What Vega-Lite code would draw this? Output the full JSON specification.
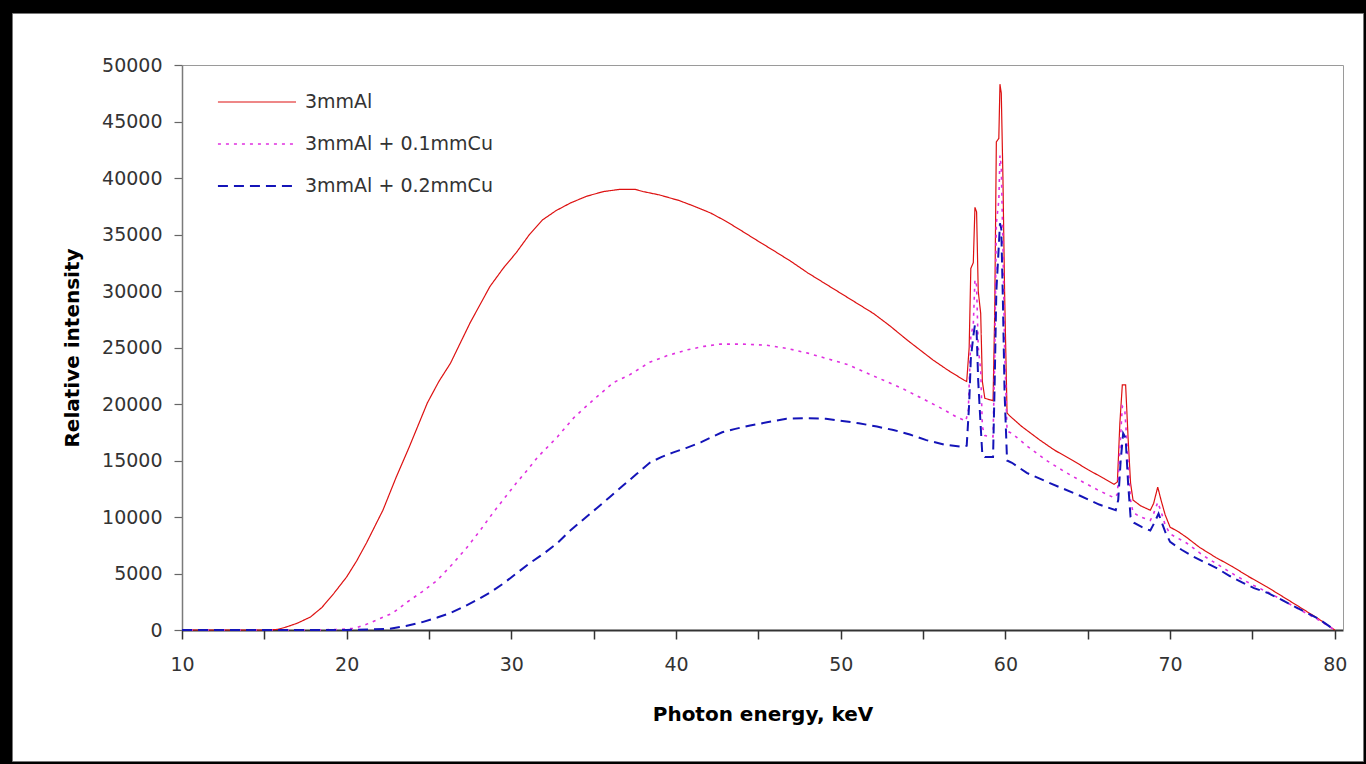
{
 "$schema": "https://vega.github.io/schema/vega-lite/v6.json",
 "width": 1351,
 "height": 748,
 "autosize": {"type": "none"},
 "padding": {"left": 12, "top": 13, "right": 3, "bottom": 3},
 "background": "#000000",
 "config": {"view": {"fill": "#ffffff", "stroke": "#777777", "strokeWidth": 1}, "font": "DejaVu Sans"},
 "data": {"values": [
{"s":"3mmAl","E":10,"I":0},{"s":"3mmAl","E":12,"I":0},{"s":"3mmAl","E":14,"I":0},{"s":"3mmAl","E":15,"I":0},{"s":"3mmAl","E":15.8,"I":50},{"s":"3mmAl","E":16.3,"I":250},{"s":"3mmAl","E":17,"I":600},{"s":"3mmAl","E":17.8,"I":1150},{"s":"3mmAl","E":18.5,"I":2000},{"s":"3mmAl","E":19.2,"I":3200},{"s":"3mmAl","E":20,"I":4700},{"s":"3mmAl","E":20.6,"I":6100},{"s":"3mmAl","E":21.2,"I":7700},{"s":"3mmAl","E":22.2,"I":10600},{"s":"3mmAl","E":23,"I":13500},{"s":"3mmAl","E":23.8,"I":16200},{"s":"3mmAl","E":24.9,"I":20100},{"s":"3mmAl","E":25.6,"I":22000},{"s":"3mmAl","E":26.3,"I":23600},{"s":"3mmAl","E":27.5,"I":27200},{"s":"3mmAl","E":28.7,"I":30400},{"s":"3mmAl","E":29.5,"I":32000},{"s":"3mmAl","E":30.3,"I":33400},{"s":"3mmAl","E":31.1,"I":35000},{"s":"3mmAl","E":31.9,"I":36300},{"s":"3mmAl","E":32.7,"I":37100},{"s":"3mmAl","E":33.6,"I":37800},{"s":"3mmAl","E":34.6,"I":38400},{"s":"3mmAl","E":35.6,"I":38800},{"s":"3mmAl","E":36.6,"I":39000},{"s":"3mmAl","E":37.5,"I":39000},{"s":"3mmAl","E":38,"I":38800},{"s":"3mmAl","E":39,"I":38500},{"s":"3mmAl","E":40.2,"I":38000},{"s":"3mmAl","E":41.1,"I":37500},{"s":"3mmAl","E":42.1,"I":36900},{"s":"3mmAl","E":43,"I":36200},{"s":"3mmAl","E":43.9,"I":35400},{"s":"3mmAl","E":45,"I":34400},{"s":"3mmAl","E":45.9,"I":33600},{"s":"3mmAl","E":47,"I":32600},{"s":"3mmAl","E":48,"I":31600},{"s":"3mmAl","E":49,"I":30700},{"s":"3mmAl","E":50,"I":29800},{"s":"3mmAl","E":51,"I":28900},{"s":"3mmAl","E":52,"I":28000},{"s":"3mmAl","E":53,"I":26900},{"s":"3mmAl","E":54,"I":25700},{"s":"3mmAl","E":54.8,"I":24800},{"s":"3mmAl","E":55.6,"I":23900},{"s":"3mmAl","E":56.5,"I":23000},{"s":"3mmAl","E":57.5,"I":22100},{"s":"3mmAl","E":57.65,"I":22000},{"s":"3mmAl","E":57.8,"I":25000},{"s":"3mmAl","E":57.9,"I":32000},{"s":"3mmAl","E":58.05,"I":32500},{"s":"3mmAl","E":58.15,"I":37400},{"s":"3mmAl","E":58.25,"I":37000},{"s":"3mmAl","E":58.35,"I":30000},{"s":"3mmAl","E":58.5,"I":28000},{"s":"3mmAl","E":58.6,"I":22000},{"s":"3mmAl","E":58.75,"I":20500},{"s":"3mmAl","E":59.25,"I":20300},{"s":"3mmAl","E":59.35,"I":28000},{"s":"3mmAl","E":59.45,"I":43200},{"s":"3mmAl","E":59.6,"I":43500},{"s":"3mmAl","E":59.67,"I":48300},{"s":"3mmAl","E":59.75,"I":47500},{"s":"3mmAl","E":59.85,"I":40000},{"s":"3mmAl","E":59.95,"I":30000},{"s":"3mmAl","E":60.1,"I":19200},{"s":"3mmAl","E":60.3,"I":18900},{"s":"3mmAl","E":61,"I":18000},{"s":"3mmAl","E":62.1,"I":16800},{"s":"3mmAl","E":63,"I":15900},{"s":"3mmAl","E":64.1,"I":15000},{"s":"3mmAl","E":65,"I":14200},{"s":"3mmAl","E":66,"I":13400},{"s":"3mmAl","E":66.6,"I":12900},{"s":"3mmAl","E":66.8,"I":13100},{"s":"3mmAl","E":66.95,"I":18300},{"s":"3mmAl","E":67.1,"I":21700},{"s":"3mmAl","E":67.3,"I":21700},{"s":"3mmAl","E":67.45,"I":17000},{"s":"3mmAl","E":67.6,"I":13000},{"s":"3mmAl","E":67.75,"I":11500},{"s":"3mmAl","E":68.2,"I":11000},{"s":"3mmAl","E":68.8,"I":10600},{"s":"3mmAl","E":69,"I":11200},{"s":"3mmAl","E":69.25,"I":12650},{"s":"3mmAl","E":69.45,"I":11500},{"s":"3mmAl","E":69.7,"I":10200},{"s":"3mmAl","E":70,"I":9100},{"s":"3mmAl","E":70.5,"I":8700},{"s":"3mmAl","E":71,"I":8200},{"s":"3mmAl","E":71.8,"I":7300},{"s":"3mmAl","E":72.8,"I":6400},{"s":"3mmAl","E":73.8,"I":5600},{"s":"3mmAl","E":74.8,"I":4700},{"s":"3mmAl","E":75.9,"I":3800},{"s":"3mmAl","E":76.9,"I":2900},{"s":"3mmAl","E":77.9,"I":2000},{"s":"3mmAl","E":79,"I":1000},{"s":"3mmAl","E":80,"I":0},
{"s":"3mmAl + 0.1mmCu","E":10,"I":0},{"s":"3mmAl + 0.1mmCu","E":14,"I":0},{"s":"3mmAl + 0.1mmCu","E":18,"I":0},{"s":"3mmAl + 0.1mmCu","E":19.5,"I":50},{"s":"3mmAl + 0.1mmCu","E":20.5,"I":150},{"s":"3mmAl + 0.1mmCu","E":21.2,"I":500},{"s":"3mmAl + 0.1mmCu","E":22,"I":1000},{"s":"3mmAl + 0.1mmCu","E":22.8,"I":1500},{"s":"3mmAl + 0.1mmCu","E":23.7,"I":2500},{"s":"3mmAl + 0.1mmCu","E":24.6,"I":3400},{"s":"3mmAl + 0.1mmCu","E":25.5,"I":4400},{"s":"3mmAl + 0.1mmCu","E":26.4,"I":5800},{"s":"3mmAl + 0.1mmCu","E":27.3,"I":7300},{"s":"3mmAl + 0.1mmCu","E":28.1,"I":8800},{"s":"3mmAl + 0.1mmCu","E":28.9,"I":10400},{"s":"3mmAl + 0.1mmCu","E":29.6,"I":11700},{"s":"3mmAl + 0.1mmCu","E":30.3,"I":13000},{"s":"3mmAl + 0.1mmCu","E":31,"I":14200},{"s":"3mmAl + 0.1mmCu","E":31.6,"I":15300},{"s":"3mmAl + 0.1mmCu","E":32.2,"I":16200},{"s":"3mmAl + 0.1mmCu","E":32.8,"I":17100},{"s":"3mmAl + 0.1mmCu","E":33.8,"I":18800},{"s":"3mmAl + 0.1mmCu","E":35,"I":20400},{"s":"3mmAl + 0.1mmCu","E":36.2,"I":21900},{"s":"3mmAl + 0.1mmCu","E":37.2,"I":22600},{"s":"3mmAl + 0.1mmCu","E":38.4,"I":23700},{"s":"3mmAl + 0.1mmCu","E":39.5,"I":24300},{"s":"3mmAl + 0.1mmCu","E":40.7,"I":24800},{"s":"3mmAl + 0.1mmCu","E":41.7,"I":25100},{"s":"3mmAl + 0.1mmCu","E":42.7,"I":25300},{"s":"3mmAl + 0.1mmCu","E":44,"I":25300},{"s":"3mmAl + 0.1mmCu","E":45.5,"I":25200},{"s":"3mmAl + 0.1mmCu","E":46.8,"I":24900},{"s":"3mmAl + 0.1mmCu","E":48,"I":24500},{"s":"3mmAl + 0.1mmCu","E":49.2,"I":24000},{"s":"3mmAl + 0.1mmCu","E":50.4,"I":23500},{"s":"3mmAl + 0.1mmCu","E":51.5,"I":22800},{"s":"3mmAl + 0.1mmCu","E":52.6,"I":22100},{"s":"3mmAl + 0.1mmCu","E":53.7,"I":21400},{"s":"3mmAl + 0.1mmCu","E":54.8,"I":20600},{"s":"3mmAl + 0.1mmCu","E":56,"I":19700},{"s":"3mmAl + 0.1mmCu","E":57.1,"I":18800},{"s":"3mmAl + 0.1mmCu","E":57.6,"I":18500},{"s":"3mmAl + 0.1mmCu","E":57.75,"I":19500},{"s":"3mmAl + 0.1mmCu","E":57.9,"I":26000},{"s":"3mmAl + 0.1mmCu","E":58.05,"I":27000},{"s":"3mmAl + 0.1mmCu","E":58.15,"I":31000},{"s":"3mmAl + 0.1mmCu","E":58.25,"I":30500},{"s":"3mmAl + 0.1mmCu","E":58.35,"I":25000},{"s":"3mmAl + 0.1mmCu","E":58.5,"I":23000},{"s":"3mmAl + 0.1mmCu","E":58.6,"I":18000},{"s":"3mmAl + 0.1mmCu","E":58.75,"I":17200},{"s":"3mmAl + 0.1mmCu","E":59.25,"I":17100},{"s":"3mmAl + 0.1mmCu","E":59.35,"I":24000},{"s":"3mmAl + 0.1mmCu","E":59.45,"I":36000},{"s":"3mmAl + 0.1mmCu","E":59.6,"I":38000},{"s":"3mmAl + 0.1mmCu","E":59.67,"I":42000},{"s":"3mmAl + 0.1mmCu","E":59.75,"I":41000},{"s":"3mmAl + 0.1mmCu","E":59.85,"I":34000},{"s":"3mmAl + 0.1mmCu","E":59.95,"I":25000},{"s":"3mmAl + 0.1mmCu","E":60.1,"I":17600},{"s":"3mmAl + 0.1mmCu","E":60.4,"I":17400},{"s":"3mmAl + 0.1mmCu","E":61.3,"I":16300},{"s":"3mmAl + 0.1mmCu","E":62.5,"I":15000},{"s":"3mmAl + 0.1mmCu","E":63.6,"I":14000},{"s":"3mmAl + 0.1mmCu","E":64.7,"I":13100},{"s":"3mmAl + 0.1mmCu","E":65.6,"I":12400},{"s":"3mmAl + 0.1mmCu","E":66.6,"I":11700},{"s":"3mmAl + 0.1mmCu","E":66.8,"I":12000},{"s":"3mmAl + 0.1mmCu","E":66.95,"I":16000},{"s":"3mmAl + 0.1mmCu","E":67.1,"I":19800},{"s":"3mmAl + 0.1mmCu","E":67.25,"I":19500},{"s":"3mmAl + 0.1mmCu","E":67.45,"I":15000},{"s":"3mmAl + 0.1mmCu","E":67.6,"I":11500},{"s":"3mmAl + 0.1mmCu","E":67.75,"I":10400},{"s":"3mmAl + 0.1mmCu","E":68.2,"I":10000},{"s":"3mmAl + 0.1mmCu","E":68.8,"I":9700},{"s":"3mmAl + 0.1mmCu","E":69,"I":10300},{"s":"3mmAl + 0.1mmCu","E":69.25,"I":11300},{"s":"3mmAl + 0.1mmCu","E":69.45,"I":10500},{"s":"3mmAl + 0.1mmCu","E":69.7,"I":9300},{"s":"3mmAl + 0.1mmCu","E":70,"I":8500},{"s":"3mmAl + 0.1mmCu","E":71,"I":7700},{"s":"3mmAl + 0.1mmCu","E":72,"I":6600},{"s":"3mmAl + 0.1mmCu","E":73,"I":5700},{"s":"3mmAl + 0.1mmCu","E":74,"I":4800},{"s":"3mmAl + 0.1mmCu","E":75,"I":4000},{"s":"3mmAl + 0.1mmCu","E":76,"I":3300},{"s":"3mmAl + 0.1mmCu","E":77,"I":2500},{"s":"3mmAl + 0.1mmCu","E":78,"I":1700},{"s":"3mmAl + 0.1mmCu","E":79,"I":900},{"s":"3mmAl + 0.1mmCu","E":80,"I":0},
{"s":"3mmAl + 0.2mmCu","E":10,"I":0},{"s":"3mmAl + 0.2mmCu","E":15,"I":0},{"s":"3mmAl + 0.2mmCu","E":20,"I":0},{"s":"3mmAl + 0.2mmCu","E":22.6,"I":100},{"s":"3mmAl + 0.2mmCu","E":23.6,"I":350},{"s":"3mmAl + 0.2mmCu","E":24.6,"I":700},{"s":"3mmAl + 0.2mmCu","E":25.5,"I":1100},{"s":"3mmAl + 0.2mmCu","E":26.3,"I":1500},{"s":"3mmAl + 0.2mmCu","E":27.1,"I":2050},{"s":"3mmAl + 0.2mmCu","E":27.9,"I":2650},{"s":"3mmAl + 0.2mmCu","E":28.7,"I":3300},{"s":"3mmAl + 0.2mmCu","E":29.5,"I":4100},{"s":"3mmAl + 0.2mmCu","E":30.3,"I":5000},{"s":"3mmAl + 0.2mmCu","E":31.1,"I":5900},{"s":"3mmAl + 0.2mmCu","E":32,"I":6800},{"s":"3mmAl + 0.2mmCu","E":32.8,"I":7700},{"s":"3mmAl + 0.2mmCu","E":33.5,"I":8700},{"s":"3mmAl + 0.2mmCu","E":34.3,"I":9700},{"s":"3mmAl + 0.2mmCu","E":35.2,"I":10800},{"s":"3mmAl + 0.2mmCu","E":36,"I":11800},{"s":"3mmAl + 0.2mmCu","E":36.8,"I":12800},{"s":"3mmAl + 0.2mmCu","E":37.6,"I":13800},{"s":"3mmAl + 0.2mmCu","E":38.4,"I":14800},{"s":"3mmAl + 0.2mmCu","E":39.1,"I":15300},{"s":"3mmAl + 0.2mmCu","E":39.8,"I":15700},{"s":"3mmAl + 0.2mmCu","E":40.6,"I":16100},{"s":"3mmAl + 0.2mmCu","E":41.5,"I":16600},{"s":"3mmAl + 0.2mmCu","E":42.2,"I":17100},{"s":"3mmAl + 0.2mmCu","E":42.8,"I":17500},{"s":"3mmAl + 0.2mmCu","E":43.6,"I":17800},{"s":"3mmAl + 0.2mmCu","E":44.5,"I":18100},{"s":"3mmAl + 0.2mmCu","E":45.6,"I":18400},{"s":"3mmAl + 0.2mmCu","E":46.7,"I":18700},{"s":"3mmAl + 0.2mmCu","E":47.9,"I":18750},{"s":"3mmAl + 0.2mmCu","E":49.1,"I":18700},{"s":"3mmAl + 0.2mmCu","E":50.1,"I":18500},{"s":"3mmAl + 0.2mmCu","E":51.1,"I":18300},{"s":"3mmAl + 0.2mmCu","E":52.2,"I":18000},{"s":"3mmAl + 0.2mmCu","E":53.2,"I":17700},{"s":"3mmAl + 0.2mmCu","E":54.2,"I":17300},{"s":"3mmAl + 0.2mmCu","E":55.2,"I":16800},{"s":"3mmAl + 0.2mmCu","E":56.3,"I":16400},{"s":"3mmAl + 0.2mmCu","E":57.4,"I":16200},{"s":"3mmAl + 0.2mmCu","E":57.65,"I":16300},{"s":"3mmAl + 0.2mmCu","E":57.8,"I":20000},{"s":"3mmAl + 0.2mmCu","E":57.9,"I":24000},{"s":"3mmAl + 0.2mmCu","E":58.05,"I":26000},{"s":"3mmAl + 0.2mmCu","E":58.15,"I":27000},{"s":"3mmAl + 0.2mmCu","E":58.25,"I":26500},{"s":"3mmAl + 0.2mmCu","E":58.35,"I":22000},{"s":"3mmAl + 0.2mmCu","E":58.5,"I":18000},{"s":"3mmAl + 0.2mmCu","E":58.6,"I":15500},{"s":"3mmAl + 0.2mmCu","E":58.75,"I":15300},{"s":"3mmAl + 0.2mmCu","E":59.25,"I":15300},{"s":"3mmAl + 0.2mmCu","E":59.35,"I":22000},{"s":"3mmAl + 0.2mmCu","E":59.45,"I":30000},{"s":"3mmAl + 0.2mmCu","E":59.6,"I":34000},{"s":"3mmAl + 0.2mmCu","E":59.67,"I":36000},{"s":"3mmAl + 0.2mmCu","E":59.75,"I":35500},{"s":"3mmAl + 0.2mmCu","E":59.85,"I":29000},{"s":"3mmAl + 0.2mmCu","E":59.95,"I":21000},{"s":"3mmAl + 0.2mmCu","E":60.1,"I":15000},{"s":"3mmAl + 0.2mmCu","E":60.4,"I":14800},{"s":"3mmAl + 0.2mmCu","E":61.3,"I":13900},{"s":"3mmAl + 0.2mmCu","E":62.7,"I":13000},{"s":"3mmAl + 0.2mmCu","E":64.5,"I":11900},{"s":"3mmAl + 0.2mmCu","E":65.7,"I":11100},{"s":"3mmAl + 0.2mmCu","E":66.7,"I":10600},{"s":"3mmAl + 0.2mmCu","E":66.85,"I":11500},{"s":"3mmAl + 0.2mmCu","E":67,"I":15000},{"s":"3mmAl + 0.2mmCu","E":67.15,"I":17400},{"s":"3mmAl + 0.2mmCu","E":67.3,"I":17000},{"s":"3mmAl + 0.2mmCu","E":67.45,"I":13000},{"s":"3mmAl + 0.2mmCu","E":67.6,"I":10000},{"s":"3mmAl + 0.2mmCu","E":67.8,"I":9500},{"s":"3mmAl + 0.2mmCu","E":68.3,"I":9100},{"s":"3mmAl + 0.2mmCu","E":68.8,"I":8800},{"s":"3mmAl + 0.2mmCu","E":69.05,"I":9500},{"s":"3mmAl + 0.2mmCu","E":69.3,"I":10300},{"s":"3mmAl + 0.2mmCu","E":69.5,"I":9500},{"s":"3mmAl + 0.2mmCu","E":69.7,"I":8700},{"s":"3mmAl + 0.2mmCu","E":70,"I":7800},{"s":"3mmAl + 0.2mmCu","E":70.7,"I":7100},{"s":"3mmAl + 0.2mmCu","E":71.4,"I":6500},{"s":"3mmAl + 0.2mmCu","E":72.1,"I":6000},{"s":"3mmAl + 0.2mmCu","E":72.8,"I":5500},{"s":"3mmAl + 0.2mmCu","E":73.6,"I":4800},{"s":"3mmAl + 0.2mmCu","E":74.4,"I":4200},{"s":"3mmAl + 0.2mmCu","E":75.1,"I":3700},{"s":"3mmAl + 0.2mmCu","E":75.9,"I":3300},{"s":"3mmAl + 0.2mmCu","E":76.6,"I":2800},{"s":"3mmAl + 0.2mmCu","E":77.4,"I":2200},{"s":"3mmAl + 0.2mmCu","E":78.2,"I":1600},{"s":"3mmAl + 0.2mmCu","E":79,"I":1000},{"s":"3mmAl + 0.2mmCu","E":80,"I":0}
 ]},
 "layer": [
  {
   "mark": {"type": "line", "strokeCap": "butt", "clip": false},
   "encoding": {
    "x": {"field": "E", "type": "quantitative",
      "scale": {"domain": [10, 80.5], "range": [170, 1331], "nice": false, "zero": false},
      "axis": {"orient": "bottom", "offset": -131, "values": [10,15,20,25,30,35,40,45,50,55,60,65,70,75,80],
        "labelExpr": "datum.value % 10 == 0 ? datum.label : ''", "format": "d",
        "title": "Photon energy, keV", "titleFont": "DejaVu Sans", "titleFontSize": 20, "titleFontWeight": "bold", "titleColor": "#000000", "titlePadding": 30,
        "labelFont": "DejaVu Sans", "labelFontSize": 19, "labelColor": "#333333", "labelPadding": 16, "labelOverlap": false, "labelFlush": false,
        "tickSize": 9, "tickColor": "#333333", "tickWidth": 1.5, "domainColor": "#333333", "domainWidth": 2, "grid": false}},
    "y": {"field": "I", "type": "quantitative",
      "scale": {"domain": [0, 50000], "range": [617, 52], "nice": false},
      "axis": {"orient": "left", "offset": -170, "values": [0,5000,10000,15000,20000,25000,30000,35000,40000,45000,50000], "format": "d",
        "title": "Relative intensity", "titleFont": "DejaVu Sans", "titleFontSize": 20, "titleFontWeight": "bold", "titleColor": "#000000", "titlePadding": 19,
        "labelFont": "DejaVu Sans", "labelFontSize": 19, "labelColor": "#333333", "labelPadding": 12, "labelOverlap": false,
        "tickSize": 8, "tickColor": "#666666", "tickWidth": 1.2, "domainColor": "#7a7a7a", "domainWidth": 1.5, "grid": false}},
    "color": {"field": "s", "type": "nominal",
      "scale": {"domain": ["3mmAl", "3mmAl + 0.1mmCu", "3mmAl + 0.2mmCu"], "range": ["#dd1111", "#e030e0", "#1414b8"]},
      "legend": {"orient": "none", "legendX": 213, "legendY": 57, "title": null, "symbolType": "M-1.26,0H1.26", "symbolSize": 3844,
        "labelFont": "DejaVu Sans", "labelFontSize": 19, "labelColor": "#333333", "labelOffset": 16, "labelLimit": 0, "rowPadding": 0, "padding": 0}},
    "strokeDash": {"field": "s", "type": "nominal",
      "scale": {"domain": ["3mmAl", "3mmAl + 0.1mmCu", "3mmAl + 0.2mmCu"], "range": [[1, 0], [3, 5], [10, 6]]}},
    "strokeWidth": {"field": "s", "type": "nominal",
      "scale": {"domain": ["3mmAl", "3mmAl + 0.1mmCu", "3mmAl + 0.2mmCu"], "range": [1.2, 2, 2.6]}}
   }
  },
  {
   "transform": [{"filter": "false"}],
   "mark": {"type": "line"},
   "encoding": {
    "x": {"field": "E", "type": "quantitative",
      "axis": {"orient": "top", "offset": -52, "ticks": false, "labels": false, "title": null, "domainColor": "#9a9a9a", "domainWidth": 1, "grid": false}},
    "y": {"field": "I", "type": "quantitative",
      "axis": {"orient": "right", "offset": -20, "ticks": false, "labels": false, "title": null, "domainColor": "#9a9a9a", "domainWidth": 1, "grid": false}}
   }
  }
 ],
 "resolve": {"axis": {"x": "independent", "y": "independent"}}
}
